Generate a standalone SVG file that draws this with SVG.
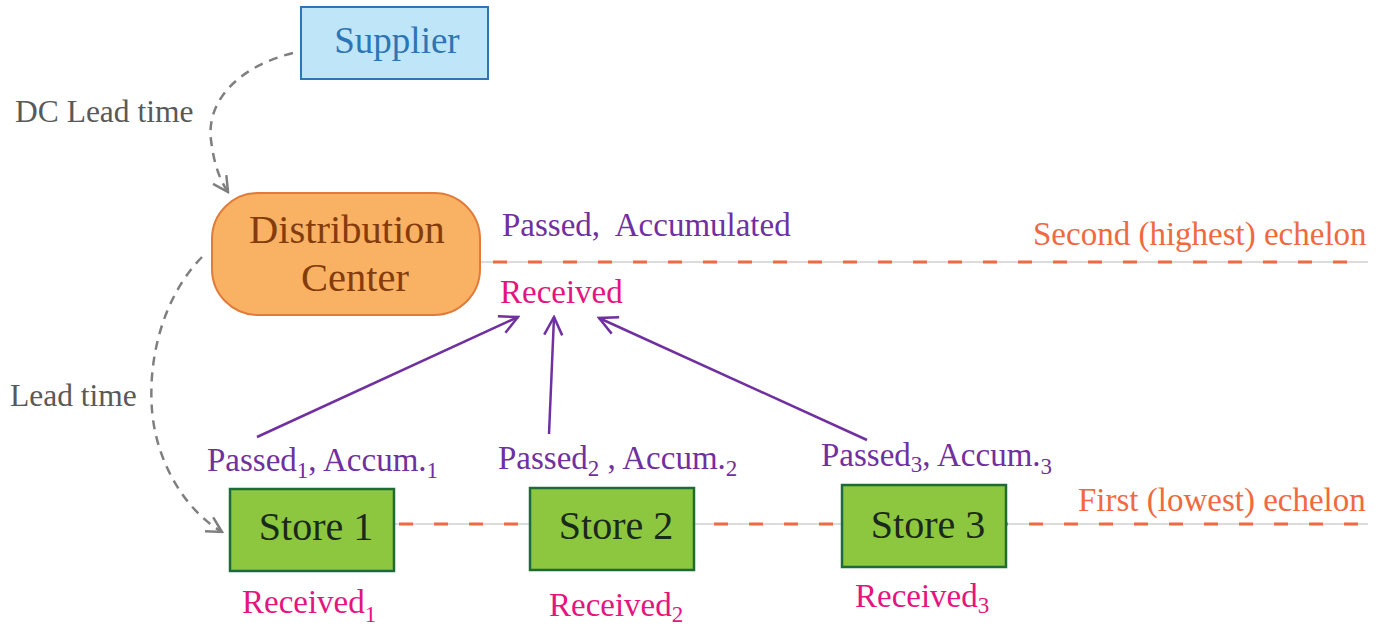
<svg xmlns="http://www.w3.org/2000/svg" width="1384" height="627" viewBox="0 0 1384 627">
  <style>
    text { font-family: "Liberation Serif", "Times New Roman", serif; }
    .node-label { font-size: 40px; text-anchor: middle; }
    .flow { font-size: 33px; fill: #7030a0; }
    .recv { font-size: 33px; fill: #e5147f; }
    .sub { font-size: 23px; }
    .lead { font-size: 31.5px; fill: #595959; }
    .echelon-label { font-size: 33px; fill: #f06940; }
    .base { stroke: #dcdcdc; stroke-width: 2; fill: none; }
    .dash { stroke: #f06940; stroke-width: 3; stroke-dasharray: 14 21; fill: none; }
    .lead-link { stroke: #7f7f7f; stroke-width: 2.5; stroke-dasharray: 9 7; fill: none; }
    .report { stroke: #7030a0; stroke-width: 2.5; fill: none; }
  </style>
  <defs>
    <marker id="grayHead" viewBox="0 0 20 20" refX="18" refY="10" markerWidth="20" markerHeight="20" markerUnits="userSpaceOnUse" orient="auto">
      <path d="M3,2 L18,10 L3,18" fill="none" stroke="#7f7f7f" stroke-width="2.5"/>
    </marker>
    <marker id="purpleHead" viewBox="0 0 24 24" refX="22" refY="12" markerWidth="24" markerHeight="24" markerUnits="userSpaceOnUse" orient="auto">
      <path d="M4,3 L22,12 L4,21" fill="none" stroke="#7030a0" stroke-width="2.5"/>
    </marker>
  </defs>

  <!-- echelon guide lines -->
  <g id="echelons">
    <line class="base" x1="480" y1="262" x2="1368" y2="262"/>
    <line class="dash" x1="493" y1="262" x2="1368" y2="262"/>
    <line class="base" x1="394" y1="524" x2="1368" y2="524"/>
    <line class="dash" x1="399" y1="524" x2="1368" y2="524"/>
    <text class="echelon-label" x="1033" y="245">Second (highest) echelon</text>
    <text class="echelon-label" x="1078" y="511">First (lowest) echelon</text>
  </g>

  <!-- connectors -->
  <g id="connectors">
    <path class="lead-link" d="M293,53 C240,66 206,100 211,140 C214,165 220,180 228,192" marker-end="url(#grayHead)"/>
    <path class="lead-link" d="M202,257 C162,298 148,360 152,410 C156,462 185,510 222,532" marker-end="url(#grayHead)"/>
    <line class="report" x1="257" y1="437" x2="518" y2="317" marker-end="url(#purpleHead)"/>
    <line class="report" x1="549" y1="434" x2="554" y2="317" marker-end="url(#purpleHead)"/>
    <line class="report" x1="867" y1="440" x2="599" y2="318" marker-end="url(#purpleHead)"/>
  </g>

  <g id="supplier">
    <rect x="301" y="7" width="187" height="72" fill="#bfe6f8" stroke="#2e75b6" stroke-width="2"/>
    <text class="node-label" x="397" y="53" fill="#2e75b6" style="font-size:37px">Supplier</text>
  </g>

  <g id="distribution-center">
    <rect x="212" y="193" width="268" height="122" rx="46" ry="46" fill="#f9b264" stroke="#e07b39" stroke-width="2"/>
    <text class="node-label" x="347" y="243" fill="#843c0c" style="font-size:40.5px">Distribution</text>
    <text class="node-label" x="355" y="291" fill="#843c0c" style="font-size:40.5px">Center</text>
    <text class="flow" x="502" y="236">Passed,&#160; Accumulated</text>
    <text class="recv" x="500" y="303">Received</text>
  </g>

  <g id="store-1">
    <rect x="230" y="489" width="164" height="82" fill="#8dc63f" stroke="#1e6b3a" stroke-width="2.5"/>
    <text class="node-label" x="316" y="540" fill="#1a2a1a">Store 1</text>
    <text class="flow" x="207" y="471">Passed<tspan class="sub" dy="7">1</tspan><tspan dy="-7">, Accum.</tspan><tspan class="sub" dy="7">1</tspan></text>
    <text class="recv" x="242" y="613">Received<tspan class="sub" dy="9">1</tspan></text>
  </g>

  <g id="store-2">
    <rect x="530" y="488" width="164" height="82" fill="#8dc63f" stroke="#1e6b3a" stroke-width="2.5"/>
    <text class="node-label" x="616" y="539" fill="#1a2a1a">Store 2</text>
    <text class="flow" x="498" y="469">Passed<tspan class="sub" dy="7">2</tspan><tspan dy="-7"> , Accum.</tspan><tspan class="sub" dy="7">2</tspan></text>
    <text class="recv" x="549" y="616">Received<tspan class="sub" dy="6">2</tspan></text>
  </g>

  <g id="store-3">
    <rect x="842" y="485" width="164" height="82" fill="#8dc63f" stroke="#1e6b3a" stroke-width="2.5"/>
    <text class="node-label" x="928" y="538" fill="#1a2a1a">Store 3</text>
    <text class="flow" x="821" y="466">Passed<tspan class="sub" dy="6">3</tspan><tspan dy="-6">, Accum.</tspan><tspan class="sub" dy="8">3</tspan></text>
    <text class="recv" x="855" y="607">Received<tspan class="sub" dy="6">3</tspan></text>
  </g>

  <g id="lead-labels">
    <text class="lead" x="15" y="122">DC Lead time</text>
    <text class="lead" x="10" y="406">Lead time</text>
  </g>
</svg>
